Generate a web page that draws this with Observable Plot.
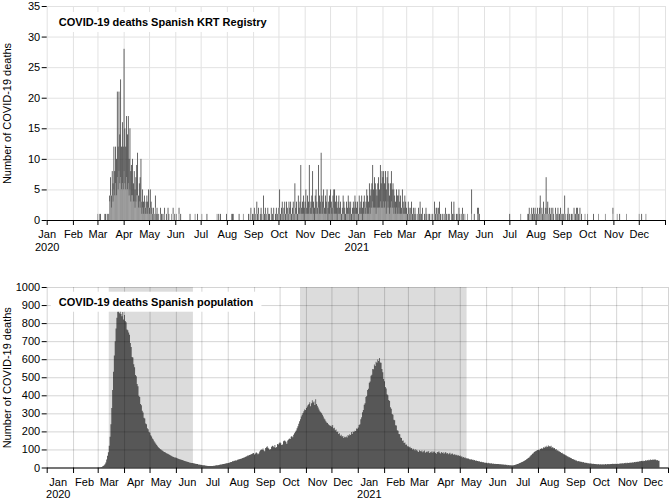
<!DOCTYPE html>
<html>
<head>
<meta charset="utf-8">
<script src="https://cdn.jsdelivr.net/npm/d3@7"></script>
<script src="https://cdn.jsdelivr.net/npm/@observablehq/plot@0.6"></script>
<style>
  html, body { margin: 0; padding: 0; background: #fff; }
  #chart svg { display: block; }
</style>
</head>
<body>
<div id="chart"></div>
<script>
// ---------------- DATA ----------------
const monthLabels = ["Jan","Feb","Mar","Apr","May","Jun","Jul","Aug","Sep","Oct","Nov","Dec"];
const krtTitle = "COVID-19 deaths Spanish KRT Registry";
const spainTitle = "COVID-19 deaths Spanish population";
const yLabel = "Number of COVID-19 deaths";
const krtYTicks = [0, 5, 10, 15, 20, 25, 30, 35];
const spainYTicks = [0, 100, 200, 300, 400, 500, 600, 700, 800, 900, 1000];

// State of alarm periods (shaded)
const alarmStart = ["2020-03-14", "2020-10-25"];
const alarmEnd = ["2020-06-21", "2021-05-09"];

// KRT registry daily deaths, total per day, 2020 from March
const krtTotal2020 = [
  [1,0,1,1,0,0,0,0,1,1,0,1,1,1,4,7,4,8,6,12,8,12,10,21,12,21,14,23,12,16,12],
  [28,15,12,17,14,17,10,15,8,9,10,6,8,5,7,9,11,4,6,7,10,3,5,3,4,2,3,4,3,5],
  [2,5,3,2,1,2,1,4,1,2,1,1,0,2,1,1,0,1,2,0,1,0,2,1,0,0,1,0,2,0,1],
  [0,1,0,0,2,0,1,0,0,0,0,0,0,0,0,0,0,1,0,0,0,0,0,1,0,0,1,0,0,0],
  [0,1,0,0,0,0,0,1,0,0,0,0,0,0,0,0,0,0,0,1,0,1,0,1,0,0,0,0,0,0,1],
  [0,0,0,0,0,1,1,1,0,0,0,0,0,0,1,0,0,0,0,1,0,0,0,0,0,1,0,1,2,0,1],
  [1,2,1,0,3,1,2,0,1,2,1,0,4,1,2,1,0,2,1,1,0,2,1,1,2,0,1,2,1,1],
  [2,5,1,2,3,1,2,3,1,3,2,1,3,2,3,1,2,3,1,6,2,3,1,4,2,3,9,2,3,4,2],
  [3,5,2,4,3,9,2,3,4,8,3,2,4,5,3,2,9,4,3,11,4,3,5,2,4,3,5,2,3,4],
  [5,3,2,4,5,5,3,4,2,3,4,2,3,1,2,4,3,2,1,3,2,4,3,2,3,1,2,3,2,4,3]
];
// KRT registry, lighter sub-series per day, 2020 from March
const krtLight2020 = [
  [1,0,1,0,0,0,0,0,1,0,0,1,0,1,3,4,2,4,3,5,4,6,4,7,5,8,6,7,5,6,5],
  [8,6,5,7,5,6,4,5,3,4,4,3,3,2,3,4,4,2,3,2,3,1,2,1,2,1,1,2,1,2],
  [1,2,1,1,0,1,1,2,0,1,0,1,0,1,0,0,0,1,1,0,0,0,1,0,0,0,1,0,1,0,0],
  [0,1,0,0,1,0,0,0,0,0,0,0,0,0,0,0,0,0,0,0,0,0,0,1,0,0,0,0,0,0],
  [0,1,0,0,0,0,0,0,0,0,0,0,0,0,0,0,0,0,0,1,0,0,0,0,0,0,0,0,0,0,0],
  [0,0,0,0,0,1,0,0,0,0,0,0,0,0,0,0,0,0,0,1,0,0,0,0,0,0,0,1,1,0,0],
  [1,1,0,0,1,0,1,0,0,1,0,0,1,0,1,0,0,1,0,0,0,1,0,0,1,0,0,1,0,1],
  [1,2,0,1,1,0,1,1,0,1,1,0,1,1,1,0,1,1,0,2,1,1,0,1,1,1,2,1,1,1,0],
  [1,2,1,1,1,2,1,1,1,2,1,0,1,2,1,1,2,1,1,3,1,1,2,1,1,1,2,0,1,1],
  [2,1,0,1,2,1,1,1,0,1,1,1,1,0,1,1,1,0,0,1,1,1,1,0,1,0,1,1,0,1,1]
];
// KRT registry daily deaths, total per day, 2021
const krtTotal2021 = [
  [2,3,1,4,2,3,4,2,3,4,2,3,5,4,3,6,4,5,6,9,5,7,6,5,4,6,7,5,9,6,8],
  [7,8,6,8,5,7,8,6,4,6,8,5,6,5,4,3,5,4,4,5,3,4,2,5,3,2,4,3],
  [2,1,3,2,1,2,3,1,2,1,2,1,0,1,2,1,3,1,1,2,0,1,1,2,1,0,1,1,0,1,0],
  [1,0,3,1,2,2,1,2,3,1,0,1,1,0,1,2,1,0,1,1,1,0,3,1,1,3,1,0,1,1],
  [1,2,1,0,1,2,1,0,1,0,0,1,0,0,0,0,5,0,0,1,0,0,0,2,2,1,0,0,0,0,0],
  [0,0,0,0,0,0,0,0,0,0,0,0,0,0,0,0,0,0,0,0,0,0,0,0,0,0,0,0,0,0],
  [1,0,0,0,0,0,0,0,0,0,0,0,0,1,0,0,0,0,0,0,0,1,1,2,0,1,2,1,2,1,2],
  [1,1,2,1,2,4,1,2,1,3,1,2,7,2,3,1,2,1,2,1,2,1,0,2,1,1,2,1,1,2,1],
  [1,1,1,4,1,0,1,2,1,1,0,1,1,0,2,1,1,2,2,1,1,2,0,1,0,0,0,1,0,0],
  [1,0,0,0,0,0,0,1,0,0,0,0,0,1,0,0,0,0,0,0,0,1,0,0,0,0,0,0,0,0,2],
  [0,0,0,0,1,0,0,1,0,0,0,0,0,0,0,1,0,0,0,0,0,0,0,0,0,0,0,0,0,0],
  [1,0,0,1,0,0,0,0,1,0,0,0,0,0,0,0,0,0,0,0,0,0,0,0,0,0,0,0,0,0,0]
];
// KRT registry, lighter sub-series per day, 2021
const krtLight2021 = [
  [1,1,0,1,1,1,1,0,1,2,1,1,2,1,1,2,1,2,2,3,2,2,2,1,2,2,2,2,3,2,2],
  [2,3,2,3,1,2,3,2,1,2,3,2,2,1,2,1,2,1,1,2,1,1,1,2,1,1,1,1],
  [1,0,1,1,0,1,1,0,1,0,1,0,0,1,1,0,1,0,0,1,0,0,1,1,0,0,1,0,0,1,0],
  [0,0,1,0,1,1,0,1,1,0,0,1,0,0,1,1,0,0,1,0,1,0,1,0,0,1,1,0,0,1],
  [1,1,0,0,1,1,0,0,1,0,0,1,0,0,0,0,1,0,0,0,0,0,0,1,1,0,0,0,0,0,0],
  [0,0,0,0,0,0,0,0,0,0,0,0,0,0,0,0,0,0,0,0,0,0,0,0,0,0,0,0,0,0],
  [0,0,0,0,0,0,0,0,0,0,0,0,0,1,0,0,0,0,0,0,0,1,0,1,0,1,1,0,1,0,1],
  [1,0,1,1,1,1,1,1,0,1,1,1,2,1,1,1,1,0,1,1,1,0,0,1,1,0,1,1,0,1,1],
  [1,0,1,1,1,0,0,1,1,0,0,0,1,0,1,1,0,1,1,0,1,1,0,0,0,0,0,1,0,0],
  [1,0,0,0,0,0,0,0,0,0,0,0,0,1,0,0,0,0,0,0,0,1,0,0,0,0,0,0,0,0,1],
  [0,0,0,0,1,0,0,0,0,0,0,0,0,0,0,1,0,0,0,0,0,0,0,0,0,0,0,0,0,0],
  [1,0,0,0,0,0,0,0,1,0,0,0,0,0,0,0,0,0,0,0,0,0,0,0,0,0,0,0,0,0,0]
];

// Spanish population daily deaths, 2020 from March
const spainDeaths2020 = [
  [0,0,1,2,3,5,8,12,18,28,45,65,85,120,170,240,330,430,530,620,700,770,830,865,870,855,872,850,838,862,820],
  [845,812,805,765,760,748,735,690,668,612,610,572,556,512,505,462,450,398,390,352,345,315,305,276,272,244,240,218,212,196],
  [192,178,172,160,155,146,138,131,124,118,112,108,103,100,96,93,89,86,84,81,78,76,73,70,68,65,63,60,58,56,55],
  [54,51,50,47,46,44,43,41,40,37,36,35,33,32,30,29,27,27,25,25,23,23,21,21,19,19,17,17,15,15],
  [14,13,12,12,11,10,10,9,9,8,8,8,9,9,10,10,11,12,12,13,14,15,16,17,18,19,20,21,22,23,24],
  [25,27,28,30,30,34,34,37,38,40,39,43,44,46,47,49,50,53,54,56,58,61,62,66,66,69,70,73,75,79,80],
  [72,78,85,80,74,78,88,95,100,98,105,96,90,108,112,118,110,104,98,102,115,120,118,112,125,110,114,130,128,135],
  [140,135,124,128,145,150,148,142,132,150,155,160,158,170,175,168,182,190,198,205,218,228,242,256,268,282,292,302,312,322,318],
  [330,338,346,352,362,340,356,372,360,366,346,378,352,342,332,322,312,306,300,292,282,272,266,256,250,246,240,236,230,232],
  [226,236,218,220,206,210,196,200,186,190,176,182,172,174,164,170,168,172,166,180,176,184,180,196,186,200,196,204,202,216,214]
];
// Spanish population daily deaths, 2021
const spainDeaths2021 = [
  [222,236,240,268,278,306,318,348,356,390,396,430,436,470,476,508,514,546,544,570,562,586,580,598,590,606,582,580,546,528,490],
  [478,446,438,406,400,374,368,334,326,296,292,264,262,234,232,206,204,186,184,166,164,148,150,136,138,126,128,118],
  [118,112,115,106,108,100,104,96,102,94,98,90,86,95,92,88,94,84,90,94,82,86,90,85,92,80,84,88,82,90,84],
  [88,80,76,86,84,90,82,78,86,80,84,76,82,86,78,80,74,78,82,72,76,78,70,74,72,68,70,66,68,64],
  [66,60,62,56,58,54,56,50,52,48,50,46,44,47,42,44,40,41,38,39,36,36,33,34,31,32,29,30,28,27,26],
  [27,24,26,23,24,22,23,21,22,20,21,19,20,19,20,18,19,17,18,16,17,15,16,14,15,13,14,12,13,12],
  [11,12,12,14,15,16,19,20,22,25,26,29,31,33,36,39,42,46,49,53,56,61,66,70,76,79,86,88,92,94,97],
  [99,96,104,102,108,104,112,110,116,112,120,114,122,118,116,120,110,114,106,108,100,102,94,96,90,88,86,80,82,76,74],
  [72,68,67,62,61,57,57,52,51,47,47,43,43,39,39,35,36,33,34,31,32,29,30,27,28,25,26,24,24,22],
  [23,21,22,20,21,19,20,18,19,17,19,16,18,16,18,17,18,17,19,17,19,18,20,18,20,19,21,19,21,20,21],
  [20,21,20,22,21,23,22,24,22,25,23,26,24,26,25,27,26,28,27,29,28,31,29,32,31,33,32,35,34,36],
  [37,35,38,36,40,37,41,39,43,40,44,41,45,42,46,43,45,40,41,37,38,30]
];

// ---------------- BUILD TABLES ----------------
function krtRows(year, firstMonth, totals, lights) {
  const rows = [];
  totals.forEach((month, mi) => month.forEach((t, di) => {
    const date = new Date(Date.UTC(year, firstMonth + mi, di + 1));
    rows.push({date, next: d3.utcDay.offset(date, 1), total: t, light: Math.min(t, lights[mi][di])});
  }));
  return rows;
}
function dailyRows(year, firstMonth, values) {
  const rows = [];
  values.forEach((month, mi) => month.forEach((v, di) => {
    rows.push({date: new Date(Date.UTC(year, firstMonth + mi, di + 1)), deaths: v});
  }));
  return rows;
}
const krt = krtRows(2020, 2, krtTotal2020, krtLight2020).concat(krtRows(2021, 0, krtTotal2021, krtLight2021));
const spain = dailyRows(2020, 2, spainDeaths2020).concat(dailyRows(2021, 0, spainDeaths2021));
const alarms = alarmStart.map((s, i) => ({start: new Date(s), end: new Date(alarmEnd[i])}));

const xDomain = [new Date("2020-01-01"), new Date("2022-01-01")];
const monthTicks = d3.utcMonth.range(xDomain[0], d3.utcDay.offset(xDomain[1], 1));
const labelMonths = monthTicks.filter(d => d < xDomain[1]);
const midMonths = labelMonths.map(d => d3.utcDay.offset(d, 13));

const fmt = d => monthLabels[d.getUTCMonth()] + (d.getUTCMonth() === 0 ? "\n" + d.getUTCFullYear() : "");
const fmtTop = d => d >= xDomain[1] ? "" : fmt(d);
const fmtNum = d => String(d);

const FONT = "'Liberation Sans', Arial, Helvetica, sans-serif";
const style = {fontFamily: FONT, fontSize: "11px", background: "#fff", color: "#000", overflow: "visible"};

// ---------------- TOP PANEL ----------------
const topPlot = Plot.plot({
  width: 669, height: 250,
  marginLeft: 46.7, marginRight: 4, marginTop: 6, marginBottom: 30,
  style,
  x: {type: "utc", domain: xDomain, label: null},
  y: {domain: [0, 35], label: null},
  marks: [
    Plot.gridX(monthTicks, {stroke: "#e2e2e2", strokeOpacity: 1}),
    Plot.gridY(krtYTicks, {stroke: "#e2e2e2", strokeOpacity: 1}),
    Plot.rect(krt.filter(d => d.light > 0), {x1: "date", x2: "next", y1: 0, y2: "light", fill: "#7a7a7a", insetRight: 0.1}),
    Plot.rect(krt.filter(d => d.total > d.light), {x1: "date", x2: "next", y1: "light", y2: "total", fill: "#333", insetRight: 0.1}),
    Plot.ruleY([0], {stroke: "#000", strokeWidth: 1.2}),
    Plot.axisX(monthTicks, {tickFormat: fmtTop, tickSize: 5, tickPadding: 3, lineHeight: 1.18, label: null}),
    Plot.axisY(krtYTicks, {tickFormat: fmtNum, tickSize: 5, tickPadding: 2, label: yLabel, labelAnchor: "center", labelOffset: 44, labelArrow: "none"}),
    Plot.text([krtTitle], {frameAnchor: "top-left", dx: 11.6, dy: 16, lineAnchor: "middle", textAnchor: "start", fontWeight: "bold", fontSize: 11})
  ]
});

// ---------------- BOTTOM PANEL ----------------
const botPlot = Plot.plot({
  width: 669, height: 250,
  marginLeft: 46.7, marginRight: 1, marginTop: 37, marginBottom: 32.5,
  style,
  x: {type: "utc", domain: xDomain, label: null},
  y: {domain: [0, 1000], label: null},
  marks: [
    Plot.rect(alarms, {x1: "start", x2: "end", y1: 0, y2: 1000, fill: "#dcdcdc"}),
    Plot.areaY(spain, {x: "date", y: "deaths", fill: "#575757", curve: "step-after"}),
    Plot.gridX(monthTicks, {stroke: "#000", strokeOpacity: 0.17}),
    Plot.gridY(spainYTicks, {stroke: "#000", strokeOpacity: 0.17}),
    Plot.ruleY([0], {stroke: "#000", strokeWidth: 1.2}),
    Plot.axisX(monthTicks, {tickFormat: () => "", tickSize: 5.5, label: null}),
    Plot.axisX(midMonths, {tickFormat: fmt, tickSize: 0, tickPadding: 9, lineHeight: 1.1, label: null}),
    Plot.axisY(spainYTicks, {tickFormat: fmtNum, tickSize: 5, tickPadding: 2, label: yLabel, labelAnchor: "center", labelOffset: 44, labelArrow: "none"}),
    Plot.text([spainTitle], {frameAnchor: "top-left", dx: 11.6, dy: 14.7, lineAnchor: "middle", textAnchor: "start", fontWeight: "bold", fontSize: 11})
  ]
});

const chart = document.getElementById("chart");
chart.appendChild(topPlot);
chart.appendChild(botPlot);

// white box behind each panel title, sized from the title text
function boxTitle(svg, title) {
  d3.select(svg).selectAll("text").filter(function() { return this.textContent === title; }).each(function() {
    const b = this.getBBox();
    const g = this.closest("g[aria-label='text']") || this.parentNode;
    const ctm = this.getCTM && this.getCTM();
    const svgCtm = svg.getCTM && svg.getCTM();
    let tx = 0, ty = 0;
    if (ctm && svgCtm) { tx = ctm.e - svgCtm.e; ty = ctm.f - svgCtm.f; }
    d3.select(svg).insert("rect", () => g)
      .attr("x", b.x + tx - 8).attr("y", b.y + b.height / 2 + ty - 10)
      .attr("width", b.width + 16).attr("height", 20)
      .attr("fill", "#fff");
  });
}
boxTitle(topPlot, krtTitle);
boxTitle(botPlot, spainTitle);
</script>
</body>
</html>
